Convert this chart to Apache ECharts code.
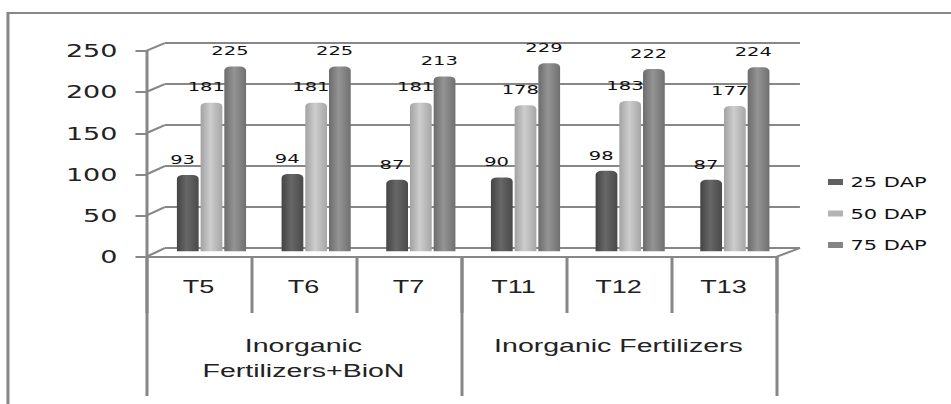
<!DOCTYPE html>
<html>
<head>
<meta charset="utf-8">
<script src="https://cdn.jsdelivr.net/npm/echarts@6/dist/echarts.min.js"></script>
<style>
html,body{margin:0;padding:0;background:#fff;width:951px;height:404px;overflow:hidden;}
#chart{width:634px;height:404px;transform:scaleX(1.5);transform-origin:0 0;}
</style>
</head>
<body>
<div id="chart"></div>
<script>
const categories = ['T5', 'T6', 'T7', 'T11', 'T12', 'T13'];
const groups = ['Inorganic\nFertilizers+BioN', 'Inorganic Fertilizers'];
const seriesNames = ['25 DAP', '50 DAP', '75 DAP'];
const dap25 = [93, 94, 87, 90, 98, 87];
const dap50 = [181, 181, 181, 178, 183, 177];
const dap75 = [225, 225, 213, 229, 222, 224];
const yTicks = [0, 50, 100, 150, 200, 250];

const lineColor = '#878787';
function grad(a, b, c) {
  return {type: 'linear', x: 0, y: 0, x2: 1, y2: 0,
    colorStops: [{offset: 0, color: a}, {offset: 0.45, color: b}, {offset: 1, color: c}]};
}
const fills = [grad('#444', '#676767', '#4a4a4a'), grad('#a2a2a2', '#cdcdcd', '#a6a6a6'), grad('#6c6c6c', '#949494', '#707070')];
const legendColors = ['#606060', '#b3b3b3', '#858585'];
const values = [dap25, dap50, dap75];

const chart = echarts.init(document.getElementById('chart'), null, {renderer: 'svg'});
const option = {
  animation: false,
  backgroundColor: '#fff',
  grid: [
    {left: 97.3, right: 116.7, top: 51, bottom: 147},
    {left: 110, right: 100.7, top: 43, bottom: 156},
    {left: 106.1, right: 109.2, top: 46, bottom: 152.7}
  ],
  xAxis: [
    {type: 'category', gridIndex: 0, data: categories, position: 'bottom',
      axisLine: {show: true, lineStyle: {color: lineColor, width: 2}},
      axisTick: {show: true, length: 56, interval: 0, lineStyle: {color: lineColor, width: 2}},
      axisLabel: {margin: 21, fontFamily: 'Liberation Sans', fontSize: 18, color: '#222', interval: 0},
      splitLine: {show: false}},
    {type: 'category', gridIndex: 0, data: groups, position: 'bottom',
      axisLine: {show: false},
      axisTick: {show: true, length: 139, interval: 0, lineStyle: {color: lineColor, width: 2}},
      axisLabel: {margin: 76, fontFamily: 'Liberation Sans', fontSize: 19, lineHeight: 25, color: '#222', interval: 0, verticalAlign: 'top'},
      splitLine: {show: false}},
    {type: 'value', gridIndex: 1, min: 0, max: 1, show: false},
    {type: 'category', gridIndex: 2, data: categories, show: false}
  ],
  yAxis: [
    {type: 'value', gridIndex: 0, min: 0, max: 250, interval: 50,
      axisLine: {show: true, lineStyle: {color: lineColor, width: 2}},
      axisTick: {show: true, length: 7, lineStyle: {color: lineColor, width: 2}},
      axisLabel: {margin: 19, fontFamily: 'DejaVu Sans', fontSize: 18, color: '#222'},
      splitLine: {show: false}},
    {type: 'value', gridIndex: 1, min: 0, max: 250, interval: 50,
      axisLine: {show: false}, axisTick: {show: false}, axisLabel: {show: false},
      splitLine: {show: true, lineStyle: {color: lineColor, width: 2}}},
    {type: 'value', gridIndex: 2, min: 0, max: 250, show: false}
  ],
  legend: {
    orient: 'vertical', left: 547, top: 169, itemWidth: 10, itemHeight: 6, itemGap: 15.5,
    icon: 'rect',
    textStyle: {fontFamily: 'DejaVu Sans', fontSize: 14, lineHeight: 16, color: '#111'},
    data: seriesNames.map((n, i) => ({name: n, itemStyle: {color: legendColors[i]}}))
  },
  series: seriesNames.map((n, i) => ({
    name: n, type: 'bar', xAxisIndex: 3, yAxisIndex: 2,
    data: values[i], barWidth: 14.5, barGap: '9%',
    itemStyle: {color: fills[i], borderRadius: [4, 4, 0, 0]},
    label: {show: true, position: 'top', distance: 9, offset: [-3.5, 0],
      fontFamily: 'DejaVu Sans', fontSize: 13, color: '#111'}
  }))
};
chart.setOption(option);

// 3D perspective connectors between front axis and back wall
const c0 = chart.convertToPixel({xAxisIndex: 0}, categories[0]);
const c1 = chart.convertToPixel({xAxisIndex: 0}, categories[1]);
const cN = chart.convertToPixel({xAxisIndex: 0}, categories[categories.length - 1]);
const bw = c1 - c0;
const frontL = c0 - bw / 2, frontR = cN + bw / 2;
const backL = chart.convertToPixel({xAxisIndex: 2}, 0);
const backR = chart.convertToPixel({xAxisIndex: 2}, 1);
const g = [];
yTicks.forEach(v => {
  const fy = chart.convertToPixel({yAxisIndex: 0}, v);
  const by = chart.convertToPixel({yAxisIndex: 1}, v);
  g.push({type: 'line', silent: true, z: 0, shape: {x1: frontL, y1: fy, x2: backL, y2: by},
    style: {stroke: lineColor, lineWidth: 2}});
});
const f0 = chart.convertToPixel({yAxisIndex: 0}, 0);
const b0 = chart.convertToPixel({yAxisIndex: 1}, 0);
g.push({type: 'line', silent: true, z: 0, shape: {x1: frontR, y1: f0, x2: backR, y2: b0},
  style: {stroke: lineColor, lineWidth: 2}});
g.push({type: 'rect', silent: true, z: 0, shape: {x: 5.3, y: 13, width: 1000, height: 1000},
  style: {fill: 'none', stroke: lineColor, lineWidth: 2}});
chart.setOption({graphic: g});
</script>
</body>
</html>
